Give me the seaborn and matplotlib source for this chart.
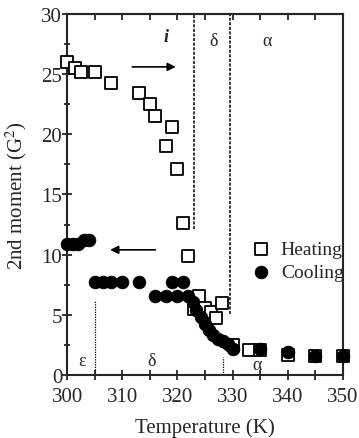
import matplotlib
matplotlib.use('Agg')
import matplotlib.pyplot as plt
import seaborn as sns
import pandas as pd
from matplotlib.ticker import MultipleLocator

# heating run (open squares)
heat_T = [300, 301.5, 302.5, 305, 308, 313, 315, 316, 318, 319, 320, 321, 322,
          323, 324, 325, 326, 327, 328, 330, 333, 335, 340, 345, 350]
heat_M = [26.0, 25.5, 25.2, 25.2, 24.3, 23.4, 22.5, 21.5, 19.0, 20.6, 17.1, 12.6, 9.9,
          5.5, 6.6, 5.6, 5.2, 4.7, 6.0, 2.5, 2.1, 2.1, 1.7, 1.6, 1.6]

# cooling run (filled circles)
cool_T = [300, 301, 302, 303, 304, 305, 306.5, 308, 310, 313, 316, 318, 319, 320, 321, 322,
          322.8, 323.4, 324.3, 325, 325.7, 326.5, 327.4, 328.3, 329.2, 330, 335, 340, 345, 350]
cool_M = [10.9, 10.9, 10.9, 11.2, 11.2, 7.7, 7.7, 7.7, 7.7, 7.7, 6.6, 6.6, 7.7, 6.6, 7.7, 6.6,
          6.1, 5.4, 4.8, 4.2, 3.7, 3.3, 3.0, 2.85, 2.6, 2.2, 2.15, 1.9, 1.55, 1.55]

heat = pd.DataFrame({'T': heat_T, 'M': heat_M})
cool = pd.DataFrame({'T': cool_T, 'M': cool_M})

sns.set_style('ticks')
plt.rcParams['font.family'] = ['Liberation Serif', 'DejaVu Serif']
plt.rcParams['mathtext.fontset'] = 'stix'

fig = plt.figure(figsize=(3.59, 4.39), dpi=100)
ax = fig.add_axes([0.187, 0.1435, 0.768, 0.8225])

sns.scatterplot(data=heat, x='T', y='M', ax=ax, marker='s', s=66, color='white',
                edgecolor='black', linewidth=1.3, label='Heating', zorder=3, clip_on=False)
sns.scatterplot(data=cool, x='T', y='M', ax=ax, marker='o', s=85, color='black',
                edgecolor='black', linewidth=0.5, label='Cooling', zorder=4, clip_on=False)

# phase boundaries
ax.plot([323, 323], [12.1, 30], ls=(0, (2, 1)), color='black', lw=1.1)
ax.plot([329.6, 329.6], [5.1, 30], ls=(0, (2, 1)), color='black', lw=1.1)
ax.plot([305, 305], [0, 6.2], ls=(0, (1, 1)), color='black', lw=0.9)
ax.plot([328.3, 328.3], [0, 1.5], ls=(0, (1, 1)), color='black', lw=0.9)

ax.annotate('', xy=(320.2, 25.6), xytext=(311.3, 25.6),
            arrowprops=dict(arrowstyle='-|>', color='black', lw=1.2, mutation_scale=12))
ax.annotate('', xy=(307.3, 10.4), xytext=(316.5, 10.4),
            arrowprops=dict(arrowstyle='-|>', color='black', lw=1.2, mutation_scale=12))

ax.text(318, 28.1, 'i', fontsize=13, fontstyle='italic', fontweight='bold', ha='center', va='center')
ax.text(326.5, 27.8, 'δ', fontsize=13, ha='center', va='center')
ax.text(336.3, 27.8, 'α', fontsize=13, ha='center', va='center')
ax.text(302.7, 1.2, 'ε', fontsize=13, ha='center', va='center')
ax.text(315.3, 1.2, 'δ', fontsize=13, ha='center', va='center')
ax.text(334.4, 0.9, 'α', fontsize=13, ha='center', va='center')

ax.set_xlim(300, 350)
ax.set_ylim(0, 30)
ax.xaxis.set_major_locator(MultipleLocator(10))
ax.xaxis.set_minor_locator(MultipleLocator(5))
ax.yaxis.set_major_locator(MultipleLocator(5))
ax.yaxis.set_minor_locator(MultipleLocator(2.5))
ax.tick_params(which='major', direction='inout', length=7, width=1.3, labelsize=15)
ax.tick_params(axis='x', which='major', pad=5)
ax.tick_params(axis='y', which='major', pad=0)
ax.tick_params(which='minor', direction='inout', length=5, width=1.3)
ax.tick_params(axis='x', which='minor', length=7)

top = ax.secondary_xaxis('top')
top.set_xticks(range(300, 351, 5))
top.tick_params(direction='in', length=4, width=1.3, labeltop=False)
top.spines['top'].set_linewidth(1.5)

for sp in ax.spines.values():
    sp.set_visible(True)
    sp.set_linewidth(1.5)

ax.set_xlabel('Temperature (K)', fontsize=15, labelpad=8)
ax.set_ylabel('2nd moment (G$^2$)', fontsize=15, labelpad=9)

ax.legend(loc='upper left', bbox_to_anchor=(0.62, 0.41), frameon=False, fontsize=14,
          handlelength=1.0, handletextpad=0.5, labelspacing=0.25, borderpad=0.2)

fig.savefig('out.png', dpi=100)
